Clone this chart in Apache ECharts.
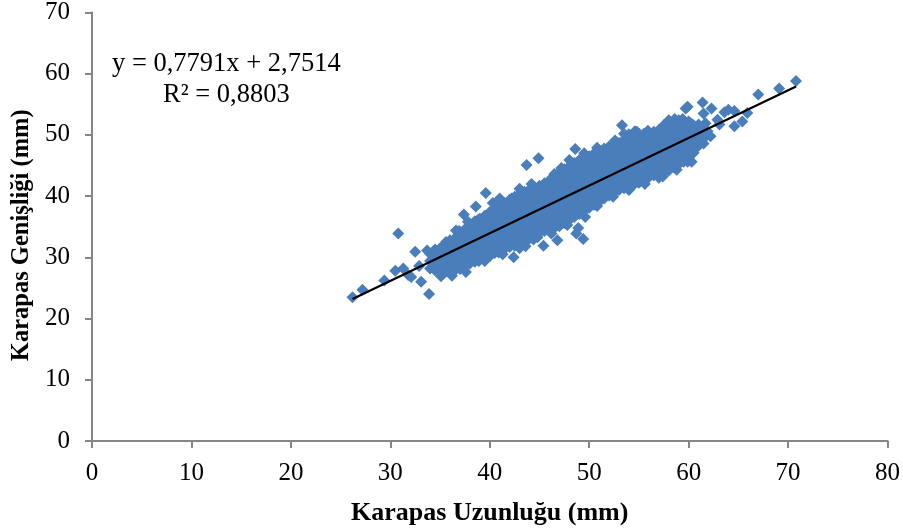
<!DOCTYPE html>
<html>
<head>
<meta charset="utf-8">
<style>html,body{margin:0;padding:0;background:#fff}#main{width:903px;height:532px}</style>
<script src="https://cdn.jsdelivr.net/npm/echarts@6/dist/echarts.min.js"></script>
</head>
<body>
<div id="main"></div>
<script>
// scattered points away from the main cloud, [length, width]
const outliers = [
  [26.2,23.5],[27.2,24.7],[29.4,26.2],[30.8,33.9],[30.5,27.8],[31.3,28.2],[31.8,27.1],[32.1,26.8],[32.5,30.9],
  [32.9,28.6],[33.1,26.0],[33.9,24.0],[33.7,31.1],[34.6,30.9],[37.4,37.0],[38.6,38.3],[39.6,40.5],[36.6,34.4],
  [43.7,45.1],[44.9,46.2],[48.6,47.7],[42.4,30.0],[45.4,31.9],[46.8,32.8],[48.9,34.8],[48.7,33.9],[49.4,33.0],
  [42.2,39.6],[53.3,51.6],[59.7,54.3],[59.9,54.6],[61.4,55.3],[62.3,54.3],[61.5,53.5],[65.9,53.6],[64.0,54.1],
  [64.6,53.9],[63.6,53.7],[65.4,52.2],[64.6,51.4],[62.9,52.5],[63.1,51.7],[61.7,51.9],[61.5,48.6],[59.9,45.6],
  [57.4,43.2],[58.0,52.4],[59.0,52.4],[54.8,50.5],[54.0,50.1],[56.3,49.7],[62.2,49.8],[61.9,50.6],[67.0,56.6],
  [69.1,57.6],[70.8,58.8],[38.9,29.4],[35.1,26.9],[40.9,30.8],[43.6,31.8],[47.2,36.9],[56.6,43.6],[44.4,32.9]
];
// bumps along the upper and lower rim of the cloud
const upperRim = [
  [35.6,32.5],[36.9,34.3],[37.8,35.8],[40.3,38.9],[41.0,39.6],[43.0,41.2],[44.2,42.0],[46.5,43.6],[47.2,44.6],
  [48.0,45.9],[49.5,47.0],[50.8,47.9],[52.6,49.1],[53.5,50.2],[54.6,50.6],[55.9,50.7],[57.5,51.6],[58.6,52.6],[59.4,52.6]
];
const lowerRim = [
  [36.2,27.0],[37.6,27.6],[39.5,29.4],[41.3,30.5],[43.0,31.5],[44.8,33.3],[46.2,33.9],[47.8,35.3],[49.6,36.6],
  [50.8,38.4],[52.4,39.9],[54.0,41.0],[55.6,42.0],[57.0,43.0],[58.8,44.3],[60.3,45.6]
];
// dense cloud, each row is [length, width, width, ...]
const rows30s = [
  [34,28.2,29.4,30.6],[34.3,28.6,29.9,30.9],[34.5,27.9,29.2,30.5,31.3],[34.8,28.4,29.7,30.9],[35,27.7,29.0,30.2,31.5],
  [35.3,28.3,29.6,30.8,31.8],[35.5,27.6,28.9,30.1,31.2,32.0],[35.8,28.2,29.5,30.7,31.9],[36,27.4,28.8,30.2,31.5,32.8],
  [36.3,28.1,29.5,30.8,32.1],[36.5,27.9,29.2,30.4,31.8,33.1],[36.8,28.5,29.8,31.1,32.4,33.6],[37,28.1,29.4,30.7,32.0,33.3,34.2],
  [37.3,28.8,30.1,31.4,32.7,33.9],[37.5,28.5,29.8,31.1,32.4,33.6,34.6],[37.8,29.1,30.5,31.8,33.0,34.3],[38,29.0,30.2,31.5,32.8,34.1,35.4],
  [38.3,29.6,30.9,32.2,33.5,34.8],[38.5,29.3,30.6,31.9,33.2,34.5,35.9],[38.8,30.0,31.3,32.6,33.9,35.2,36.1],[39,29.6,31.0,32.3,33.6,34.9,36.3],
  [39.3,30.3,31.7,33.0,34.3,35.6],[39.5,29.9,31.3,32.7,34.0,35.4,36.8],[39.8,30.6,32.0,33.4,34.7,36.1]
];
const rows40s = [
  [40,30.2,31.6,33.0,34.4,35.8,37.4],[40.3,30.9,32.3,33.7,35.1,36.6],[40.5,30.7,32.1,33.5,34.9,36.3,37.9],[40.8,31.4,32.8,34.2,35.6,37.1],
  [41,31.1,32.5,33.9,35.3,36.7,38.4],[41.3,31.8,33.2,34.6,36.0,37.5],[41.5,31.4,32.8,34.3,35.7,37.2,38.9],[41.8,32.1,33.5,35.0,36.4,37.9],
  [42,31.7,33.1,34.6,36.1,37.6,39.4],[42.3,32.4,33.9,35.3,36.8,38.3],[42.5,31.9,33.5,35.0,36.5,38.1,39.9],[42.8,32.7,34.2,35.7,37.2,38.7],
  [43,32.2,33.8,35.3,36.9,38.5,40.4],[43.3,33.0,34.6,36.1,37.7,39.3],[43.5,32.6,34.2,35.8,37.4,39.0,40.7],[43.8,33.4,35.0,36.6,38.2,39.8],
  [44,33.1,34.7,36.3,37.9,39.5,41.1],[44.3,33.9,35.5,37.1,38.7,40.3],[44.5,33.6,35.1,36.7,38.3,39.9,41.4],[44.8,34.3,35.9,37.5,39.1,40.6],
  [45,34.0,35.6,37.1,38.7,40.2,41.7],[45.3,34.8,36.4,37.9,39.5,41.0],[45.5,34.3,35.9,37.5,39.1,40.7,42.1],[45.8,35.1,36.7,38.3,39.9,41.5],
  [46,34.6,36.2,37.9,39.5,41.1,42.6],[46.3,35.4,37.0,38.7,40.3,41.9],[46.5,34.8,36.5,38.2,39.9,41.6,43.2],[46.8,35.7,37.4,39.1,40.8,42.5],
  [47,35.1,36.9,38.6,40.3,42.0,43.9],[47.3,36.0,37.8,39.5,41.2,42.9],[47.5,35.6,37.3,39.1,40.8,42.5,44.4],[47.8,36.5,38.2,40.0,41.7,43.4],
  [48,36.1,37.8,39.6,41.3,43.0,44.9],[48.3,37.0,38.7,40.5,42.2,43.9],[48.5,36.6,38.3,40.1,41.8,43.5,45.4],[48.8,37.5,39.2,40.9,42.6,44.4],
  [49,37.1,38.8,40.5,42.2,44.0,45.9],[49.3,38.0,39.7,41.4,43.1,44.8],[49.5,37.6,39.3,41.0,42.7,44.4,46.2],[49.8,38.5,40.2,41.9,43.6,45.3]
];
const rows50s = [
  [50,38.1,39.8,41.5,43.2,44.9,46.5],[50.3,39.0,40.7,42.4,44.1,45.7],[50.5,38.6,40.3,42.0,43.6,45.3,47.0],[50.8,39.5,41.2,42.8,44.5,46.2],
  [51,39.1,40.8,42.4,44.1,45.8,47.5],[51.3,40.0,41.6,43.3,44.9,46.6],[51.5,39.6,41.2,42.9,44.5,46.2,47.8],[51.8,40.5,42.1,43.7,45.4,47.0],
  [52,40.1,41.7,43.3,45.0,46.6,48.1],[52.3,40.9,42.5,44.2,45.8,47.4],[52.5,40.6,42.2,43.8,45.4,47.0,48.4],[52.8,41.4,43.0,44.6,46.2,47.8],
  [53,41.0,42.6,44.2,45.8,47.4,48.7],[53.3,41.8,43.4,45.0,46.6,48.2],[53.5,41.3,42.9,44.6,46.2,47.8,49.2],[53.8,42.1,43.8,45.4,47.0,48.6],
  [54,41.6,43.3,45.0,46.6,48.2,49.6],[54.3,42.5,44.2,45.8,47.4,49.0],[54.5,41.9,43.6,45.3,47.0,48.6,49.9],[54.8,42.8,44.5,46.2,47.8,49.4],
  [55,42.2,43.9,45.6,47.3,48.9,50.2],[55.3,43.1,44.8,46.5,48.1,49.6],[55.5,42.7,44.3,45.9,47.5,49.0,50.2],[55.8,43.5,45.1,46.7,48.3,49.8],
  [56,43.1,44.7,46.3,47.9,49.3,50.3],[56.3,43.9,45.5,47.1,48.6,50.0],[56.5,43.4,45.0,46.6,48.2,49.6,50.5],[56.8,44.2,45.8,47.4,49.0,50.4],
  [57,43.6,45.2,46.9,48.5,49.9,50.8],[57.3,44.4,46.1,47.7,49.2,50.6],[57.5,43.8,45.5,47.1,48.7,50.2,51.4],[57.8,44.8,46.4,48.0,49.5,51.0],
  [58,44.2,45.8,47.4,49.0,50.5,51.9],[58.3,45.0,46.6,48.2,49.7,51.2],[58.5,44.7,46.2,47.8,49.3,50.8,52.1],[58.8,45.4,46.9,48.4,49.9,51.3],
  [59,45.2,46.7,48.1,49.6,51.0,52.1],[59.3,45.9,47.4,48.8,50.2,51.5],[59.5,45.6,47.1,48.5,49.9,51.2,52.0],[59.8,46.4,47.8,49.2,50.5,51.7]
];
const rows60s = [
  [60,46.2,47.5,48.8,50.1,51.3,52.2],[60.3,46.9,48.1,49.4,50.7,51.8],[60.5,47.1,48.3,49.5,50.6,51.6],[60.8,47.9,49.0,50.2,51.2],
  [61,48.4,49.6,50.7,51.7],[61.3,49.1,50.2,51.3],[61.5,49.4,50.4,51.2]
];
// trendline ends
const trendX = [26.2, 70.8];
const trendY = [23.2, 57.9];
const xTicks = [0, 80, 10];
const yTicks = [0, 70, 10];
const xTitle = 'Karapas Uzunluğu (mm)';
const yTitle = 'Karapas Genişliği (mm)';
const equation = 'y = 0,7791x + 2,7514';
const rSquared = 'R² = 0,8803';

const scatterData = outliers.concat(upperRim, lowerRim);
[rows30s, rows40s, rows50s, rows60s].forEach(rows => {
  rows.forEach(row => {
    row.slice(1).forEach(y => scatterData.push([row[0], y]));
  });
});

const serif = '"Liberation Serif", "Times New Roman", serif';
const axisGray = '#868686';
const myChart = echarts.init(document.getElementById('main'), null, {renderer: 'canvas'});

const axisBase = {
  type: 'value',
  nameLocation: 'middle',
  splitLine: {show: false},
  axisLine: {show: true, onZero: false, lineStyle: {color: axisGray, width: 2}},
  axisTick: {show: true, length: 7, lineStyle: {color: axisGray, width: 2}},
  axisLabel: {fontFamily: serif, fontSize: 25, color: '#000'},
};

myChart.setOption({
  animation: false,
  backgroundColor: '#fff',
  grid: {left: 92, right: 14, top: 12, bottom: 91},
  xAxis: Object.assign({}, axisBase, {
    min: xTicks[0], max: xTicks[1], interval: xTicks[2],
    name: xTitle, nameGap: 59,
    nameTextStyle: {fontFamily: serif, fontSize: 26, fontWeight: 'bold', color: '#000'},
    axisLabel: Object.assign({}, axisBase.axisLabel, {margin: 20}),
  }),
  yAxis: Object.assign({}, axisBase, {
    min: yTicks[0], max: yTicks[1], interval: yTicks[2],
    name: yTitle, nameGap: 58,
    nameTextStyle: {fontFamily: serif, fontSize: 24.5, fontWeight: 'bold', color: '#000', padding: [0, 17, 0, 0]},
    axisLabel: Object.assign({}, axisBase.axisLabel, {margin: 22}),
  }),
  graphic: [
    {type: 'text', left: 112, top: 51, style: {text: equation, fontFamily: serif, fontSize: 26.5, fill: '#000'}},
    {type: 'text', left: 163, top: 82, style: {text: rSquared, fontFamily: serif, fontSize: 26.5, fill: '#000'}},
  ],
  series: [
    {
      type: 'scatter',
      symbol: 'diamond',
      symbolSize: 12,
      data: scatterData,
      itemStyle: {color: '#4a7ebb', opacity: 1},
    },
    {
      type: 'line',
      data: trendX.map((x, i) => [x, trendY[i]]),
      symbol: 'none',
      lineStyle: {color: '#000', width: 2.2},
    },
  ],
});
</script>
</body>
</html>
